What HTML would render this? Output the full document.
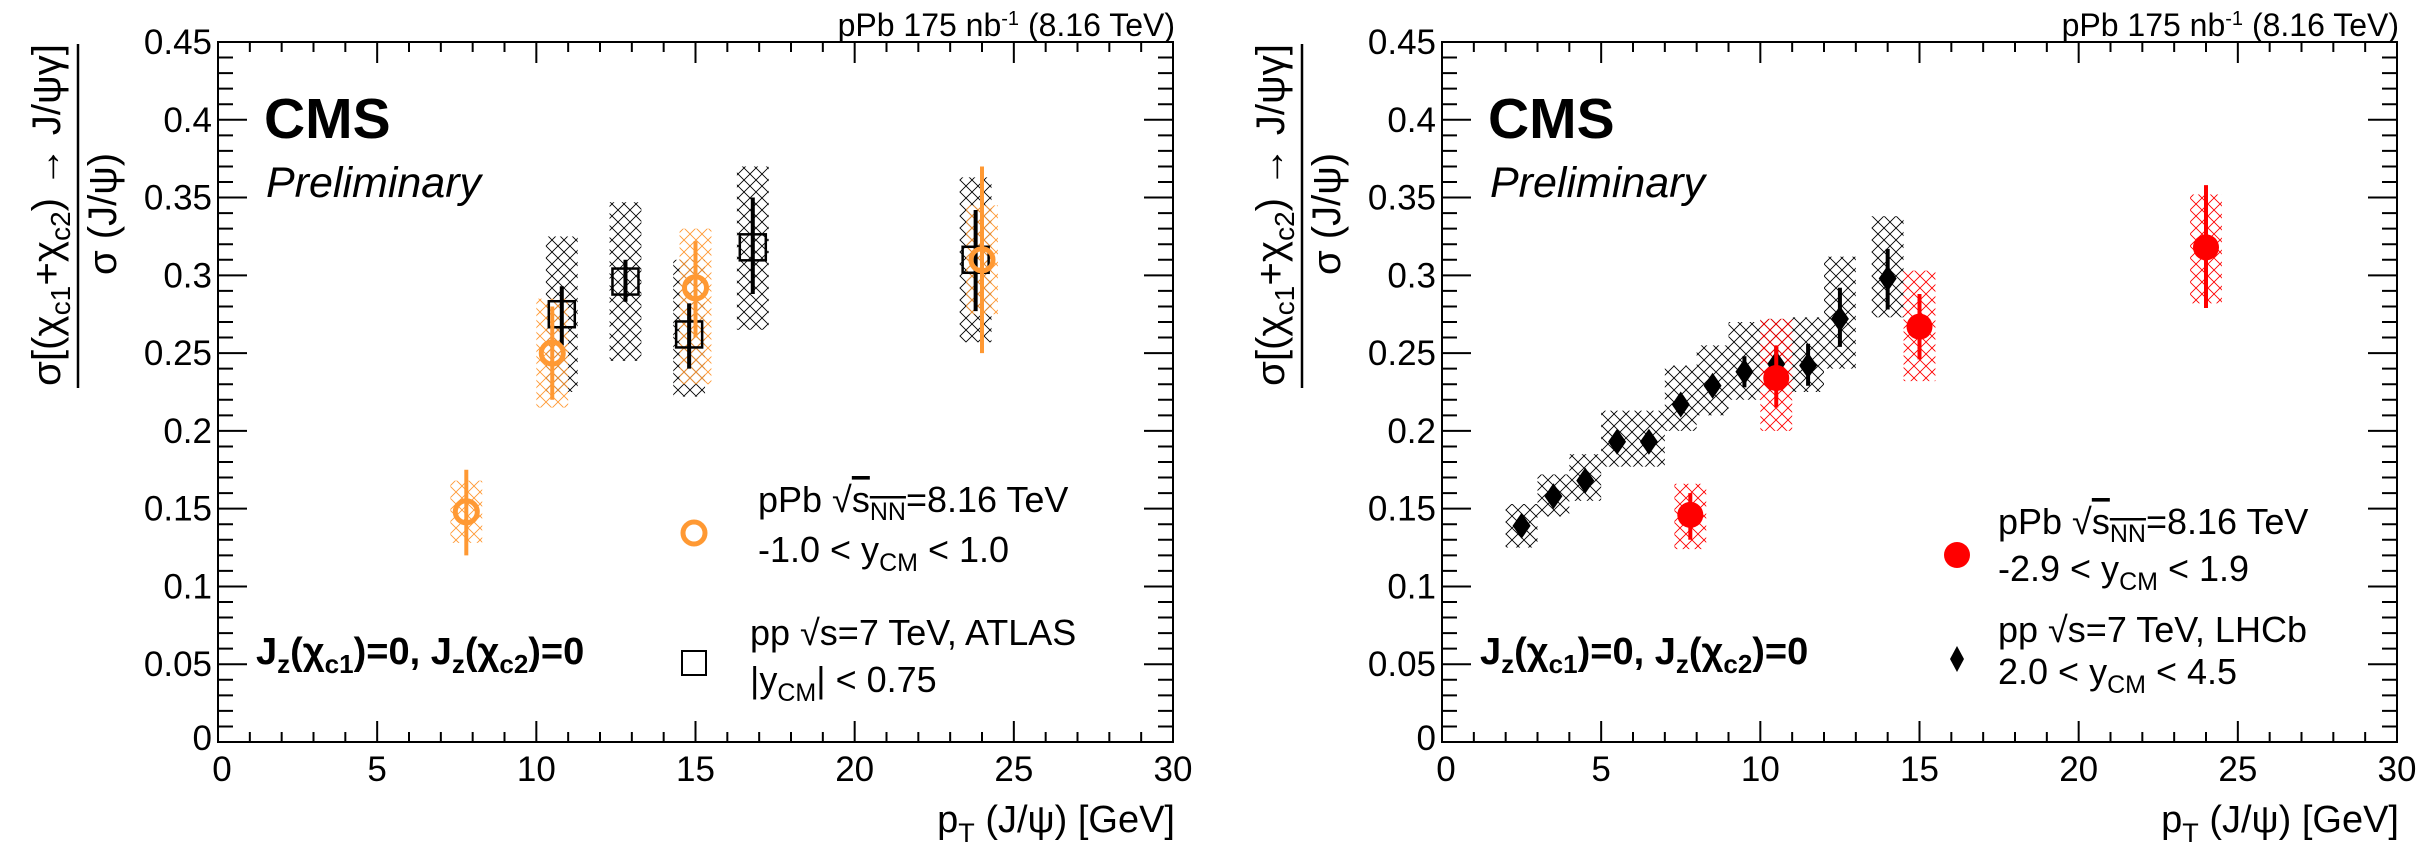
<!DOCTYPE html>
<html><head><meta charset="utf-8"><style>
html,body{margin:0;padding:0;background:#fff;}
svg{display:block;font-family:"Liberation Sans",sans-serif;}
</style></head><body>
<svg id="fig" width="2435" height="868" viewBox="0 0 2435 868" xmlns="http://www.w3.org/2000/svg">
<defs>
<pattern id="hb" width="12" height="12" patternUnits="userSpaceOnUse"><path d="M0,0L12,12M12,0L0,12" stroke="#000" stroke-width="0.9"/></pattern>
<pattern id="ho" width="12" height="12" patternUnits="userSpaceOnUse"><path d="M0,0L12,12M12,0L0,12" stroke="#ff9933" stroke-width="0.9"/></pattern>
<pattern id="hr" width="12" height="12" patternUnits="userSpaceOnUse"><path d="M0,0L12,12M12,0L0,12" stroke="#ff0000" stroke-width="0.9"/></pattern>
</defs>
<g id="left"></g>
<g id="right"></g>
</svg>
<script>
// Left panel data
const ppbLx = [7.8, 10.5, 15.0, 24.0];
const ppbLy = [0.148, 0.250, 0.292, 0.310];
const ppbLstatLo = [0.120, 0.220, 0.260, 0.250];
const ppbLstatHi = [0.175, 0.280, 0.322, 0.370];
const ppbLsysLo = [0.128, 0.215, 0.230, 0.275];
const ppbLsysHi = [0.168, 0.285, 0.330, 0.345];
const atlasX = [10.8, 12.8, 14.8, 16.8, 23.8];
const atlasY = [0.275, 0.296, 0.262, 0.318, 0.310];
const atlasStatLo = [0.255, 0.283, 0.240, 0.288, 0.277];
const atlasStatHi = [0.293, 0.310, 0.282, 0.350, 0.342];
const atlasSysLo = [0.225, 0.245, 0.222, 0.265, 0.257];
const atlasSysHi = [0.325, 0.347, 0.310, 0.370, 0.363];
// Right panel data
const ppbRx = [7.8, 10.5, 15.0, 24.0];
const ppbRy = [0.146, 0.234, 0.267, 0.318];
const ppbRstatLo = [0.130, 0.215, 0.246, 0.279];
const ppbRstatHi = [0.160, 0.255, 0.288, 0.358];
const ppbRsysLo = [0.124, 0.200, 0.232, 0.282];
const ppbRsysHi = [0.166, 0.272, 0.303, 0.352];
const lhcbX = [2.5, 3.5, 4.5, 5.5, 6.5, 7.5, 8.5, 9.5, 10.5, 11.5, 12.5, 14.0];
const lhcbY = [0.139, 0.158, 0.168, 0.193, 0.193, 0.217, 0.229, 0.238, 0.243, 0.242, 0.272, 0.298];
const lhcbStatLo = [0.135, 0.153, 0.163, 0.188, 0.188, 0.211, 0.223, 0.228, 0.232, 0.229, 0.254, 0.278];
const lhcbStatHi = [0.143, 0.163, 0.173, 0.198, 0.198, 0.223, 0.235, 0.248, 0.254, 0.256, 0.292, 0.317];
const lhcbSysLo = [0.125, 0.145, 0.155, 0.177, 0.177, 0.200, 0.210, 0.220, 0.225, 0.225, 0.240, 0.273];
const lhcbSysHi = [0.153, 0.172, 0.185, 0.213, 0.213, 0.242, 0.255, 0.270, 0.272, 0.273, 0.312, 0.338];
const xTicks = [0, 5, 10, 15, 20, 25, 30];
const yTicks = [0, 0.05, 0.1, 0.15, 0.2, 0.25, 0.3, 0.35, 0.4, 0.45];
const yTickLabels = ["0", "0.05", "0.1", "0.15", "0.2", "0.25", "0.3", "0.35", "0.4", "0.45"];

const NS = "http://www.w3.org/2000/svg";
function mk(parent, tag, attrs, txt) {
  const e = document.createElementNS(NS, tag);
  for (const k in attrs) e.setAttribute(k, attrs[k]);
  if (txt !== undefined) e.textContent = txt;
  parent.appendChild(e);
  return e;
}
function html(parent, markup) {
  parent.insertAdjacentHTML('beforeend', markup);
}

function panel(g, X0) {
  const Y0 = 742, Yt = 42, W = 955;
  const sx = v => X0 + v / 30 * W;
  const sy = v => Y0 - v / 0.45 * (Y0 - Yt);
  const fr = mk(g, 'rect', {x: X0, y: Yt, width: W, height: Y0 - Yt, fill: 'none', stroke: '#000', 'stroke-width': 2});
  
  
  let d = '';
  for (let i = 0; i <= 30; i++) {
    const x = sx(i), L = i % 5 === 0 ? 21 : 10;
    d += `M${x},${Y0}V${Y0 - L}M${x},${Yt}V${Yt + L}`;
  }
  for (let i = 0; i <= 45; i++) {
    const y = Y0 - i / 45 * (Y0 - Yt), L = i % 5 === 0 ? 29 : 15;
    d += `M${X0},${y}H${X0 + L}M${X0 + W},${y}H${X0 + W - L}`;
  }
  const tk = mk(g, 'path', {d: d, stroke: '#000', 'stroke-width': 2, fill: 'none'});
  
  
  xTicks.forEach(v => {
    const t = mk(g, 'text', {x: sx(v) + (v === 0 ? 4 : 0), y: 781, 'font-size': 35, 'text-anchor': 'middle'}, String(v));
    
    
  });
  yTicks.forEach((v, i) => {
    const t = mk(g, 'text', {x: X0 - 6, y: sy(v) + 12 + (v === 0 ? -4 : 0), 'font-size': 35, 'text-anchor': 'end'}, yTickLabels[i]);
    
    
  });
  html(g, `<text x="${X0 + W + 2}" y="36" font-size="32" text-anchor="end">pPb 175 nb<tspan dy="-11" font-size="20">-1</tspan><tspan dy="11"> (8.16 TeV)</tspan></text>`);
  html(g, `<text x="${X0 + W + 2}" y="832" font-size="38" text-anchor="end">p<tspan dy="10" font-size="27">T</tspan><tspan dy="-10"> (J/ψ) [GeV]</tspan></text>`);
  const nx = X0 - 158, dx = X0 - 102, lx = X0 - 140;
  html(g, `<g>
   <text transform="translate(${nx},215) rotate(-90)" font-size="40" text-anchor="middle" textLength="342" lengthAdjust="spacingAndGlyphs">σ[(χ<tspan dy="10" font-size="28">c1</tspan><tspan dy="-10">+χ</tspan><tspan dy="10" font-size="28">c2</tspan><tspan dy="-10">) → J/ψγ]</tspan></text>
   <line x1="${lx}" y1="44" x2="${lx}" y2="388" stroke="#000" stroke-width="2.5"/>
   <text transform="translate(${dx},214) rotate(-90)" font-size="40" text-anchor="middle">σ (J/ψ)</text></g>`);
  html(g, `<text x="${X0 + 46}" y="138" font-size="57" font-weight="bold">CMS</text>`);
  html(g, `<text x="${X0 + 48}" y="197" font-size="43" font-style="italic">Preliminary</text>`);
  html(g, `<text x="${X0 + 38}" y="664" font-size="38" font-weight="bold">J<tspan dy="9" font-size="26">z</tspan><tspan dy="-9">(χ</tspan><tspan dy="9" font-size="26">c1</tspan><tspan dy="-9">)=0, J</tspan><tspan dy="9" font-size="26">z</tspan><tspan dy="-9">(χ</tspan><tspan dy="9" font-size="26">c2</tspan><tspan dy="-9">)=0</tspan></text>`);
  return {sx, sy};
}

function sysBoxes(g, sx, sy, xs, lo, hi, fill, name) {
  xs.forEach((x, i) => {
    const r = mk(g, 'rect', {x: sx(x - 0.5), y: sy(hi[i]), width: sx(x + 0.5) - sx(x - 0.5), height: sy(lo[i]) - sy(hi[i]), fill: fill});
    
    
  });
}
function statBars(g, sx, sy, xs, lo, hi, color, name) {
  xs.forEach((x, i) => {
    const l = mk(g, 'line', {x1: sx(x), x2: sx(x), y1: sy(lo[i]), y2: sy(hi[i]), stroke: color, 'stroke-width': 4});
    
    
  });
}

// LEFT
const gl = document.getElementById('left');
const L = panel(gl, 218);
sysBoxes(gl, L.sx, L.sy, atlasX, atlasSysLo, atlasSysHi, 'url(#hb)', 'atlas-sys-box');
sysBoxes(gl, L.sx, L.sy, ppbLx, ppbLsysLo, ppbLsysHi, 'url(#ho)', 'ppb-sys-box');
statBars(gl, L.sx, L.sy, atlasX, atlasStatLo, atlasStatHi, '#000', 'atlas-stat-error');
atlasX.forEach((x, i) => {
  const r = mk(gl, 'rect', {x: L.sx(x) - 13, y: L.sy(atlasY[i]) - 13, width: 26, height: 26, fill: 'none', stroke: '#000', 'stroke-width': 2.5});
  
  
});
statBars(gl, L.sx, L.sy, ppbLx, ppbLstatLo, ppbLstatHi, '#ff9933', 'ppb-stat-error');
ppbLx.forEach((x, i) => {
  const c = mk(gl, 'circle', {cx: L.sx(x), cy: L.sy(ppbLy[i]), r: 11, fill: 'none', stroke: '#ff9933', 'stroke-width': 5});
  
  
});
html(gl, `<g>
<circle cx="694" cy="533" r="11" fill="none" stroke="#ff9933" stroke-width="5"/>
<text x="758" y="512" font-size="36">pPb √<tspan text-decoration="overline">s<tspan dy="8" font-size="25">NN</tspan></tspan><tspan dy="-8">=8.16 TeV</tspan></text>
<text x="758" y="562" font-size="36">-1.0 &lt; y<tspan dy="9" font-size="25">CM</tspan><tspan dy="-9"> &lt; 1.0</tspan></text>
<rect x="682" y="651" width="24" height="24" fill="none" stroke="#000" stroke-width="2"/>
<text x="750" y="645" font-size="36">pp  √s=7 TeV, ATLAS</text>
<text x="750" y="692" font-size="36">|y<tspan dy="9" font-size="25">CM</tspan><tspan dy="-9">| &lt; 0.75</tspan></text></g>`);

// RIGHT
const gr = document.getElementById('right');
const R = panel(gr, 1442);
sysBoxes(gr, R.sx, R.sy, lhcbX, lhcbSysLo, lhcbSysHi, 'url(#hb)', 'lhcb-sys-box');
sysBoxes(gr, R.sx, R.sy, ppbRx, ppbRsysLo, ppbRsysHi, 'url(#hr)', 'ppb-sys-box');
statBars(gr, R.sx, R.sy, lhcbX, lhcbStatLo, lhcbStatHi, '#000', 'lhcb-stat-error');
lhcbX.forEach((x, i) => {
  const cx = R.sx(x), cy = R.sy(lhcbY[i]);
  const p = mk(gr, 'path', {d: `M${cx},${cy - 13}L${cx + 9},${cy}L${cx},${cy + 13}L${cx - 9},${cy}Z`, fill: '#000'});
  
  
});
statBars(gr, R.sx, R.sy, ppbRx, ppbRstatLo, ppbRstatHi, '#ff0000', 'ppb-stat-error');
ppbRx.forEach((x, i) => {
  const c = mk(gr, 'circle', {cx: R.sx(x), cy: R.sy(ppbRy[i]), r: 13, fill: '#ff0000'});
  
  
});
html(gr, `<g>
<circle cx="1957" cy="555" r="13" fill="#ff0000"/>
<text x="1998" y="534" font-size="36">pPb √<tspan text-decoration="overline">s<tspan dy="8" font-size="25">NN</tspan></tspan><tspan dy="-8">=8.16 TeV</tspan></text>
<text x="1998" y="581" font-size="36">-2.9 &lt; y<tspan dy="9" font-size="25">CM</tspan><tspan dy="-9"> &lt; 1.9</tspan></text>
<path d="M1957,646L1964,659L1957,672L1950,659Z" fill="#000"/>
<text x="1998" y="642" font-size="36">pp  √s=7 TeV, LHCb</text>
<text x="1998" y="684" font-size="36">2.0 &lt; y<tspan dy="9" font-size="25">CM</tspan><tspan dy="-9"> &lt; 4.5</tspan></text></g>`);
</script>
</body></html>
